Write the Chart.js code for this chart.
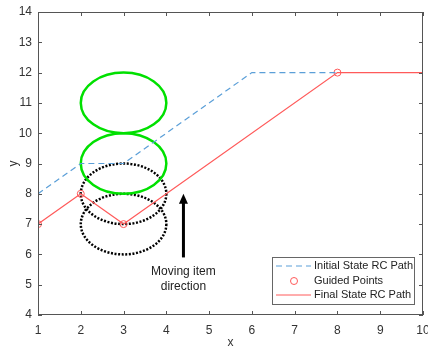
<!DOCTYPE html>
<html>
<head>
<meta charset="utf-8">
<script src="https://cdn.jsdelivr.net/npm/chart.js@4.4.1/dist/chart.umd.min.js"></script>
<style>
  html, body { margin: 0; padding: 0; background: #fff; }
  #wrap { width: 428px; height: 347px; position: relative; }
</style>
</head>
<body>
<div id="wrap"><canvas id="chart"></canvas></div>
<script>
// path data
const initialX = [1, 2, 3, 6, 8];
const initialY = [8, 9, 9, 12, 12];
const finalX = [1, 2, 3, 8, 10];
const finalY = [7, 8, 7, 12, 12];
const guidedX = [1, 2, 3, 8];
const guidedY = [7, 8, 7, 12];

// ellipses: centre x, centre y, radius (data units)
const greenCircles = [[3, 11, 1], [3, 9, 1]];
const blackCircles = [[3, 8, 1], [3, 7, 1]];

// arrow + its caption
const arrowX = 4.4;
const arrowFromY = 5.9;
const arrowToY = 8.0;
const captionLines = ['Moving item', 'direction'];
const captionY = [5.43, 4.95];

const legendLabels = ['Initial State RC Path', 'Guided Points', 'Final State RC Path'];

const blue = '#5b9fd8';
const red = '#ff5a5a';
const axisColor = '#555';
const textColor = '#333';
const fontFamily = "'Liberation Sans', Arial, sans-serif";

function toPoints(xs, ys) {
  return xs.map((x, i) => ({ x, y: ys[i] }));
}

const shapesPlugin = {
  id: 'shapes',
  beforeDatasetsDraw(chart) {
    const { ctx, scales: { x, y } } = chart;
    function ellipse(c, color, dash) {
      const cx = x.getPixelForValue(c[0]);
      const cy = y.getPixelForValue(c[1]);
      const rx = Math.abs(x.getPixelForValue(c[0] + c[2]) - cx);
      const ry = Math.abs(y.getPixelForValue(c[1] + c[2]) - cy);
      ctx.save();
      ctx.strokeStyle = color;
      ctx.lineWidth = 2.5;
      ctx.setLineDash(dash);
      ctx.beginPath();
      ctx.ellipse(cx, cy, rx, ry, 0, 0, Math.PI * 2);
      ctx.stroke();
      ctx.restore();
    }
    blackCircles.forEach((c) => ellipse(c, '#000', [2, 1.6]));
    greenCircles.forEach((c) => ellipse(c, '#00e000', []));
  },
  afterDatasetsDraw(chart) {
    const { ctx, chartArea: a, scales: { x, y } } = chart;

    // arrow
    const ax = x.getPixelForValue(arrowX);
    const y0 = y.getPixelForValue(arrowFromY);
    const y1 = y.getPixelForValue(arrowToY);
    ctx.save();
    ctx.strokeStyle = '#000';
    ctx.fillStyle = '#000';
    ctx.lineWidth = 3;
    ctx.beginPath();
    ctx.moveTo(ax, y0);
    ctx.lineTo(ax, y1 + 8);
    ctx.stroke();
    ctx.beginPath();
    ctx.moveTo(ax, y1);
    ctx.lineTo(ax - 4.5, y1 + 10);
    ctx.lineTo(ax + 4.5, y1 + 10);
    ctx.closePath();
    ctx.fill();

    ctx.font = '12px ' + fontFamily;
    ctx.fillStyle = '#222';
    ctx.textAlign = 'center';
    ctx.textBaseline = 'middle';
    captionLines.forEach((t, i) => ctx.fillText(t, ax, y.getPixelForValue(captionY[i])));
    ctx.restore();

    // axes box with inward ticks on all sides
    ctx.save();
    ctx.strokeStyle = axisColor;
    ctx.lineWidth = 1;
    ctx.strokeRect(a.left + 0.5, a.top + 0.5, a.right - a.left - 1, a.bottom - a.top - 1);
    ctx.beginPath();
    x.ticks.forEach((t) => {
      const px = Math.round(x.getPixelForValue(t.value)) + 0.5;
      ctx.moveTo(px, a.bottom); ctx.lineTo(px, a.bottom - 4);
      ctx.moveTo(px, a.top); ctx.lineTo(px, a.top + 4);
    });
    y.ticks.forEach((t) => {
      const py = Math.round(y.getPixelForValue(t.value)) + 0.5;
      ctx.moveTo(a.left, py); ctx.lineTo(a.left + 4, py);
      ctx.moveTo(a.right, py); ctx.lineTo(a.right - 4, py);
    });
    ctx.stroke();
    ctx.restore();

    // legend box
    const lx = 272, ly = 257, lw = 142, lh = 47;
    ctx.save();
    ctx.fillStyle = '#fff';
    ctx.fillRect(lx, ly, lw, lh);
    ctx.strokeStyle = '#666';
    ctx.lineWidth = 1;
    ctx.strokeRect(lx + 0.5, ly + 0.5, lw, lh);
    ctx.font = '11px ' + fontFamily;
    ctx.fillStyle = '#222';
    ctx.textBaseline = 'middle';
    ctx.textAlign = 'left';
    const rows = [266, 281, 295];
    rows.forEach((ry, i) => {
      ctx.fillText(legendLabels[i], lx + 42, ry);
    });
    ctx.lineWidth = 1;
    ctx.strokeStyle = blue;
    ctx.setLineDash([6, 4]);
    ctx.beginPath(); ctx.moveTo(lx + 4, rows[0]); ctx.lineTo(lx + 39, rows[0]); ctx.stroke();
    ctx.setLineDash([]);
    ctx.strokeStyle = red;
    ctx.beginPath(); ctx.arc(lx + 22, rows[1], 3.5, 0, Math.PI * 2); ctx.stroke();
    ctx.beginPath(); ctx.moveTo(lx + 4, rows[2]); ctx.lineTo(lx + 39, rows[2]); ctx.stroke();
    ctx.restore();
  }
};

new Chart(document.getElementById('chart'), {
  type: 'scatter',
  data: {
    datasets: [
      {
        label: legendLabels[0],
        data: toPoints(initialX, initialY),
        showLine: true,
        borderColor: blue,
        borderWidth: 1.2,
        borderDash: [6, 4],
        pointRadius: 0,
        fill: false
      },
      {
        label: legendLabels[2],
        data: toPoints(finalX, finalY),
        showLine: true,
        borderColor: red,
        borderWidth: 1.2,
        pointRadius: 0,
        fill: false
      },
      {
        label: legendLabels[1],
        data: toPoints(guidedX, guidedY),
        showLine: false,
        pointStyle: 'circle',
        pointRadius: 3.5,
        pointBorderWidth: 1,
        pointBorderColor: red,
        pointBackgroundColor: 'rgba(0,0,0,0)'
      }
    ]
  },
  options: {
    responsive: true,
    maintainAspectRatio: false,
    animation: false,
    layout: { padding: { top: 12, right: 4, left: 0, bottom: 0 } },
    plugins: {
      legend: { display: false },
      tooltip: { enabled: false }
    },
    scales: {
      x: {
        type: 'linear',
        min: 1,
        max: 10,
        grid: { display: false, drawTicks: false },
        border: { display: false },
        ticks: { stepSize: 1, padding: 8, color: textColor, font: { size: 12, family: fontFamily } },
        title: { display: true, text: 'x', color: textColor, padding: { top: 0, bottom: -3 }, font: { size: 12, family: fontFamily } },
        afterFit(scale) {
          scale.height = 32;
          scale.paddingLeft = 0;
          scale.paddingRight = 0;
        }
      },
      y: {
        type: 'linear',
        min: 4,
        max: 14,
        grid: { display: false, drawTicks: false },
        border: { display: false },
        ticks: { stepSize: 1, padding: 6, color: textColor, font: { size: 12, family: fontFamily } },
        title: { display: true, text: 'y', color: textColor, padding: { top: 6, bottom: 0 }, font: { size: 12, family: fontFamily } },
        afterFit(scale) {
          scale.width = 38;
          scale.paddingTop = 0;
          scale.paddingBottom = 0;
        }
      }
    }
  },
  plugins: [shapesPlugin]
});
</script>
</body>
</html>
